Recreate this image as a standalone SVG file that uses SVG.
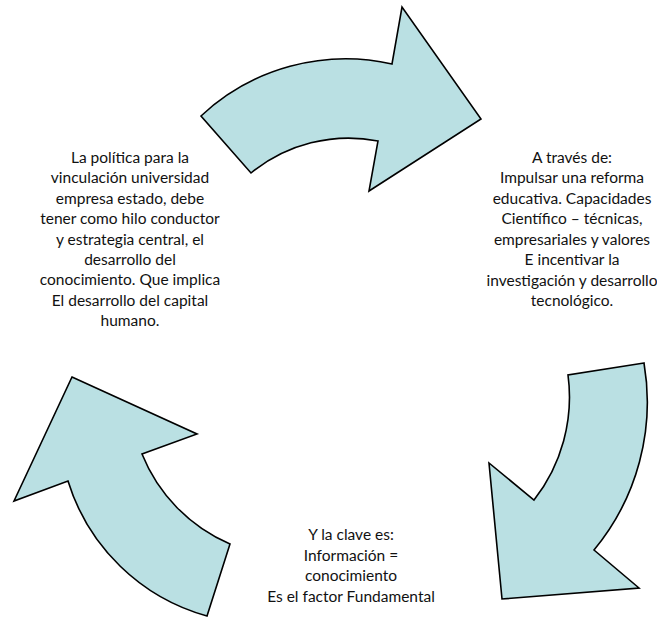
<svg xmlns="http://www.w3.org/2000/svg" width="657" height="617" viewBox="0 0 657 617">
<style>
.arrow{fill:#BAE0E3;stroke:#000;stroke-width:1.6;stroke-linejoin:miter}
.t{font-family:Lato,"Open Sans","Liberation Sans",sans-serif;font-size:15.5px;fill:#111;text-anchor:middle}
</style>
<rect width="657" height="617" fill="#fff"/>
<g id="connectors">
<path id="arrow-top" class="arrow" d="M201,116 A212,212 0 0 1 392,64 L402,7 L481,119 L369,191 L378,141 A154,154 0 0 0 251,173 Z"/>
<path id="arrow-right" class="arrow" d="M644,363 L568,375 A167,167 0 0 1 534,500 L489,463 L502,599 L639,588 L594,550 A232,232 0 0 0 644,363 Z"/>
<path id="arrow-left" class="arrow" d="M72,377 L197,434 L142,454 A165,165 0 0 0 230,544 L207,616 A202,202 0 0 1 68,481 L14,501 Z"/>
</g>
<g id="node-left">
<text class="t" x="130" y="163">La política para la</text>
<text class="t" x="130" y="183.4">vinculación universidad</text>
<text class="t" x="130" y="203.8">empresa estado, debe</text>
<text class="t" x="130" y="224.2">tener como hilo conductor</text>
<text class="t" x="130" y="244.6">y estrategia central, el</text>
<text class="t" x="130" y="265">desarrollo del</text>
<text class="t" x="130" y="285.4">conocimiento. Que implica</text>
<text class="t" x="130" y="305.8">El desarrollo del capital</text>
<text class="t" x="130" y="326.2">humano.</text>
</g>
<g id="node-right">
<text class="t" x="572" y="162.5">A través de:</text>
<text class="t" x="572" y="183">Impulsar una reforma</text>
<text class="t" x="572" y="203.5">educativa. Capacidades</text>
<text class="t" x="572" y="224">Científico – técnicas,</text>
<text class="t" x="572" y="244.5">empresariales y valores</text>
<text class="t" x="572" y="265">E incentivar la</text>
<text class="t" x="572" y="285.5">investigación y desarrollo</text>
<text class="t" x="572" y="306">tecnológico.</text>
</g>
<g id="node-bottom">
<text class="t" x="351" y="540">Y la clave es:</text>
<text class="t" x="351" y="560.5">Información =</text>
<text class="t" x="351" y="581">conocimiento</text>
<text class="t" x="351" y="601.5">Es el factor Fundamental</text>
</g>
</svg>
